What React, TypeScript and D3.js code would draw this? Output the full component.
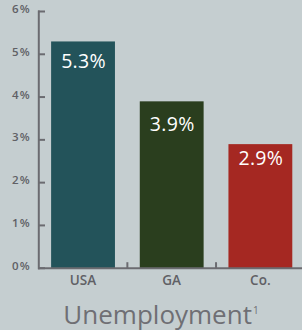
import React from "react";
import * as d3 from "d3";

const categories = ["USA", "GA", "Co."];
const values = [5.3, 3.9, 2.9];
const valueLabels = ["5.3%", "3.9%", "2.9%"];
const yTicks = [0, 1, 2, 3, 4, 5, 6];
const yTickLabels = ["0%", "1%", "2%", "3%", "4%", "5%", "6%"];
const title = "Unemployment";
const footnote = "1";

const barColors = ["#23535a", "#2a3e1e", "#a52822"];
const labelDy = [27, 30, 21];

const W = 302;
const H = 330;

export default function App() {
  const x = d3
    .scaleBand<string>()
    .domain(categories)
    .range([38.7, 304.7])
    .paddingInner(0.28)
    .paddingOuter(0.14);
  const y = d3.scaleLinear().domain([0, 6]).range([268.2, 11.5]);
  const axisColor = "#6b6b70";
  const textColor = "#606065";
  const font = "'Open Sans', sans-serif";
  const boundaries = categories.slice(1).map((c) => (x(c) as number) - (x.step() * x.paddingInner()) / 2);

  return (
    <svg
      width={W}
      height={H}
      style={{ position: "absolute", left: 0, top: 0, display: "block" }}
    >
      <rect x={0} y={0} width={W} height={H} fill="#c5ced0" />
      {categories.map((c, i) => (
        <rect
          key={c}
          x={x(c)}
          y={y(values[i])}
          width={x.bandwidth()}
          height={y(0) - y(values[i])}
          fill={barColors[i]}
        />
      ))}
      {categories.map((c, i) => (
        <text
          key={"v" + c}
          x={(x(c) as number) + x.bandwidth() / 2 + 0.5}
          y={y(values[i]) + labelDy[i]}
          textAnchor="middle"
          fill="#ffffff"
          fontFamily={font}
          fontSize={19.5}
          letterSpacing={0.3}
        >
          {valueLabels[i]}
        </text>
      ))}
      {/* y axis */}
      <line x1={38.8} x2={38.8} y1={y(6) - 1} y2={y(0) + 1} stroke={axisColor} strokeWidth={2} />
      {yTicks.map((t, i) => (
        <g key={"t" + t}>
          <line x1={38} x2={45} y1={y(t)} y2={y(t)} stroke={axisColor} strokeWidth={2} />
          <text
            x={31}
            y={y(t) + 1.5}
            textAnchor="end"
            fill={textColor}
            fontFamily={font}
            fontSize={11.5}
            fontWeight={600}
            letterSpacing={1.2}
          >
            {yTickLabels[i]}
          </text>
        </g>
      ))}
      {/* x axis */}
      <line x1={38} x2={W} y1={y(0)} y2={y(0)} stroke={axisColor} strokeWidth={2} />
      {boundaries.map((bx, i) => (
        <line key={"b" + i} x1={bx} x2={bx} y1={y(0) - 6} y2={y(0)} stroke={axisColor} strokeWidth={2} />
      ))}
      {categories.map((c) => (
        <text
          key={"c" + c}
          x={(x(c) as number) + x.bandwidth() / 2}
          y={284.5}
          textAnchor="middle"
          fill={textColor}
          fontFamily={font}
          fontSize={13.5}
          fontWeight={600}
        >
          {c}
        </text>
      ))}
      <text
        x={161}
        y={323.5}
        textAnchor="middle"
        fill="#6f6f74"
        fontFamily={font}
        fontSize={26}
      >
        {title}
        <tspan fontSize={10} dy={-10} dx={1}>
          {footnote}
        </tspan>
      </text>
    </svg>
  );
}
